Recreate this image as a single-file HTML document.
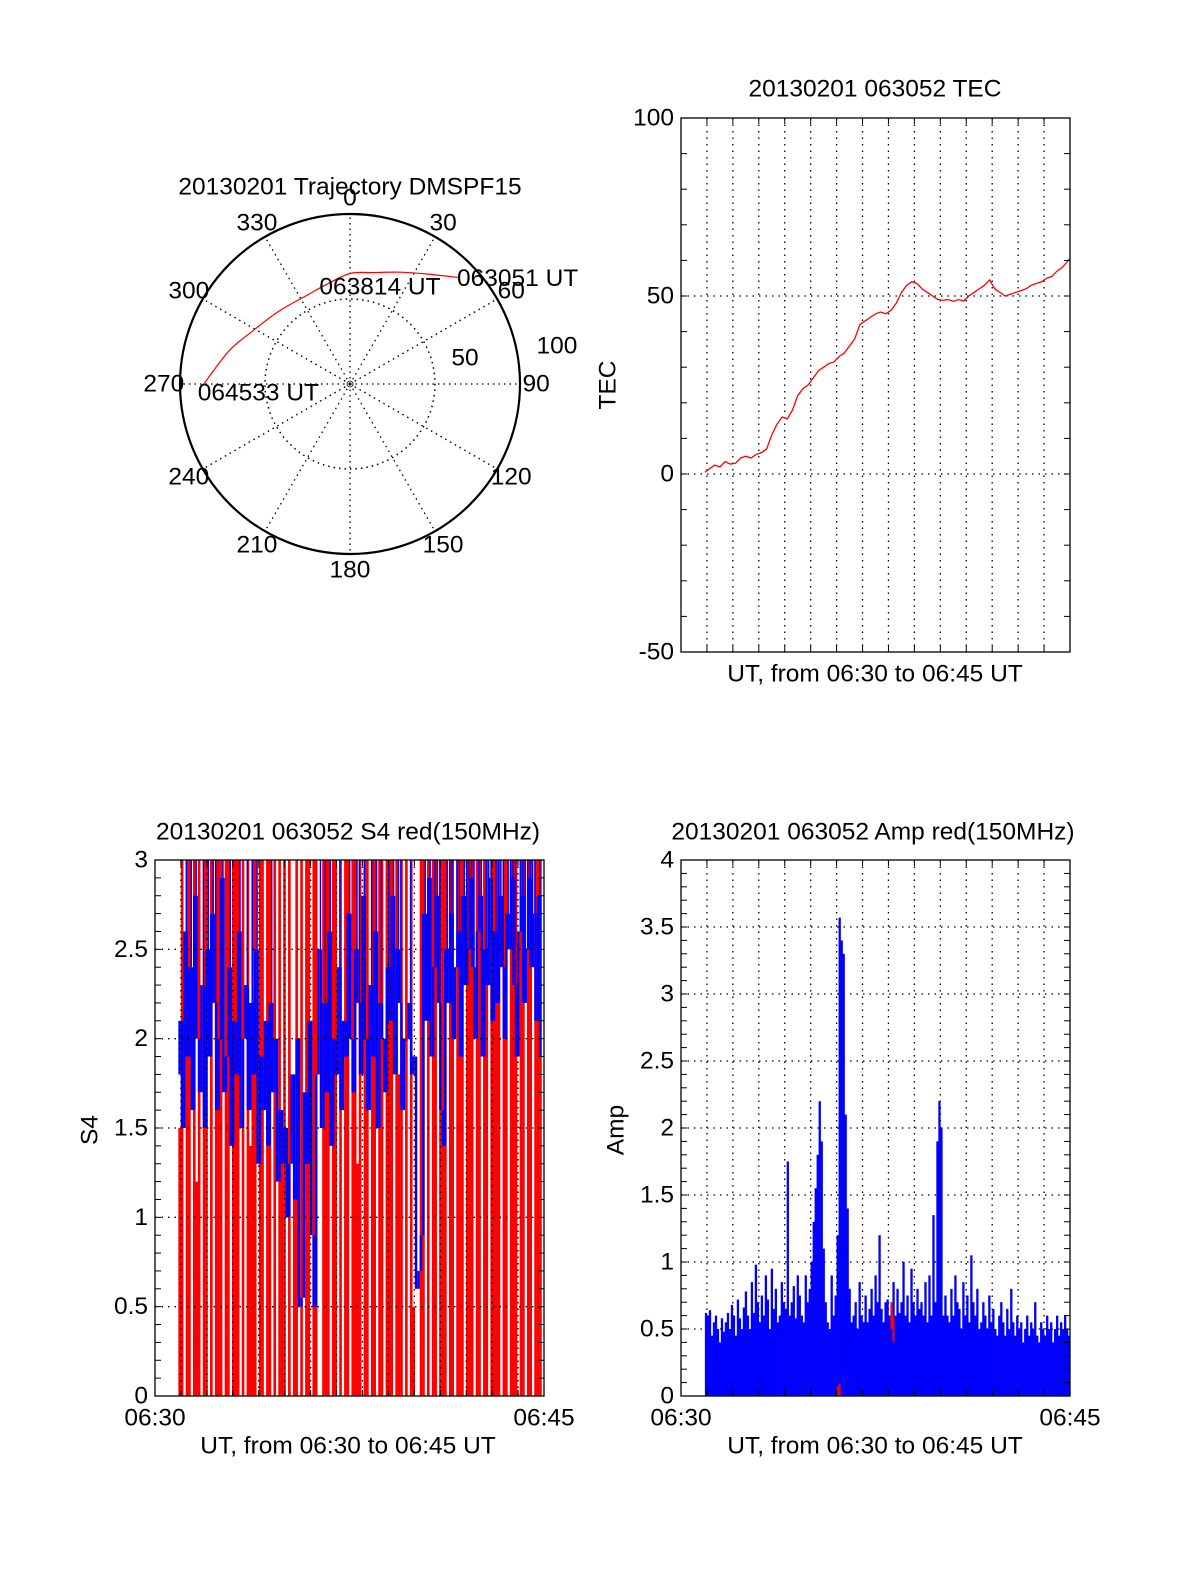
<!DOCTYPE html>
<html><head><meta charset="utf-8"><style>
html,body{margin:0;padding:0;background:#fff;overflow:hidden;width:1200px;height:1575px}
svg{display:block}
svg text{font-family:"Liberation Sans",sans-serif;font-size:24.5px;fill:#000}
</style></head><body>
<svg id="fig" width="1200" height="1575" viewBox="0 0 1200 1575" xmlns="http://www.w3.org/2000/svg"></svg>
<script>
// ---- Trajectory data (azimuth deg, radial value 0..100) ----
const trajAz = [46, 35, 24, 12, 0, -14, -26, -45, -63, -75, -90];
const trajR  = [90, 79, 72, 67, 65, 60, 58, 60, 66, 74, 86];
const polarAngleLabels = [0,30,60,90,120,150,180,210,240,270,300,330];
// ---- TEC data (minutes after 06:30, TEC) ----
const tecT = [0.92,1.1,1.3,1.5,1.7,1.9,2.1,2.3,2.5,2.7,2.9,3.1,3.3,3.5,3.7,3.9,4.1,4.3,4.5,4.7,4.9,5.1,5.3,5.5,5.7,5.9,6.1,6.3,6.5,6.7,6.9,7.1,7.3,7.5,7.7,7.9,8.1,8.3,8.5,8.7,8.9,9.1,9.3,9.5,9.7,9.9,10.1,10.3,10.5,10.7,10.9,11.1,11.3,11.5,11.7,11.9,12.1,12.3,12.5,12.7,12.9,13.1,13.3,13.5,13.7,13.9,14.1,14.3,14.5,14.7,15.0];
const tecV = [0.5,1.5,2.5,2,3.5,2.8,3,4.5,5,4.5,5.5,6,7,11,14,16,15.5,18,22,24,25,27,29,30,31,31.5,33,34,36,38,42,43,44,45,45.5,45,46,48,51,53,54,53.5,52,51,50,49,48.8,49,48.5,49,48.6,50,51,52,53,54.5,52,51,50,50.5,51,51.5,52,53,53.5,54,55,55.5,57,58,60.5];
const tecTicks = [100,50,0,-50];
// ---- S4 data ----
const s4Blue = [1.8,2.1,1.5,2.6,1.9,2.4,1.6,2.8,2.0,1.7,2.3,1.5,2.5,1.9,2.7,2.2,1.6,2.0,2.9,1.7,1.9,2.4,1.4,2.1,1.8,2.6,1.5,2.0,2.3,1.6,2.2,1.8,2.5,1.3,1.9,1.6,2.1,1.4,2.2,1.7,2.0,1.2,1.6,1.3,1.5,1.0,1.3,1.8,1.1,2.0,0.5,0.55,1.7,1.3,2.1,0.9,0.5,1.8,2.5,1.5,2.2,1.7,2.6,1.4,2.0,1.8,2.4,1.6,2.1,1.9,2.7,2.0,1.7,2.5,2.2,1.8,2.8,2.0,1.6,2.3,1.9,2.6,1.5,2.2,2.0,1.7,2.4,2.1,2.8,1.8,2.5,2.2,1.6,2.0,2.0,2.2,1.8,1.9,0.6,0.7,0.9,2.7,2.1,2.9,1.9,2.4,2.8,2.2,1.6,1.4,2.5,2.2,2.7,2.0,2.4,2.6,1.9,2.8,2.3,2.5,2.9,2.4,2.0,2.6,2.8,1.9,2.5,2.3,2.9,2.1,2.6,2.2,2.8,2.4,2.0,2.7,2.5,2.9,2.3,1.9,2.6,2.8,2.2,2.5,2.9,2.4,2.7,2.1,2.8,1.9];
const s4Red = [1.5,3,0,3,3,0,3,1.2,3,0,3,3,0,3,0,3,3,3,0,3,3,0,3,3,3,0,3,0,3,1.4,3,3,0,3,3,0,3,3,0,3,0,3,1.6,3,0,3,0,1.2,3,0,3,0,3,3,0,3,3,0,0,3,3,3,0,3,3,0,3,0,3,3,0,3,3,1.3,3,0,3,3,0,3,3,0,3,3,0,3,3,3,0,3,1.8,3,0,3,0,3,0.5,0,0,3,3,0,3,0,3,3,0,3,3,3,0,3,3,0,3,3,3,0,3,3,3,0,3,3,0,3,3,0,3,3,3,3,0,3,3,0,3,3,3,0,3,3,0,3,3,0,3,3,3,0];
const s4Ticks = ["0","0.5","1","1.5","2","2.5","3"];
// ---- Amp data ----
const ampBlue = [.62,.6,.64,.45,.55,.6,.5,.4,.58,.48,.55,.62,.5,.68,.6,.45,.72,.58,.5,.66,.78,.6,.5,.85,.62,.98,.7,.55,.75,.6,.9,.72,.5,.95,.65,.8,.55,.6,.85,.7,.65,1.75,.6,.7,.82,.58,.9,.75,.6,.55,.9,.7,.8,1.0,1.3,1.55,1.8,2.2,1.9,1.1,.7,.55,.5,.9,.6,.75,1.2,3.57,3.4,3.3,2.1,1.4,.8,.55,.6,.7,.5,.85,.6,.55,.75,.55,.65,.8,.6,.9,.7,1.2,.65,.55,.7,.72,.6,.55,.85,.6,.8,.62,.7,1.0,.6,.75,.55,.95,.7,.6,.8,.65,.7,.6,.85,.55,.9,.6,1.35,.7,1.9,2.2,2.0,.6,.75,.6,.55,.8,.6,.9,.7,.65,.5,.85,.6,.75,.55,1.05,.7,.6,.8,.5,.55,.7,.6,.5,.75,.55,.65,.5,.45,.6,.7,.55,.45,.65,.5,.8,.55,.45,.6,.5,.55,.4,.5,.6,.45,.55,.5,.7,.45,.4,.55,.5,.45,.6,.5,.55,.4,.5,.6,.45,.55,.5,.6,.5,.45];
const ampRedIdx = [66,67,93,94];
const ampRedVal = [0.07,0.09,0.7,0.6];
const ampTicks = ["0","0.5","1","1.5","2","2.5","3","3.5","4"];
const xEndLabels = ["06:30","06:45"];

const NS="http://www.w3.org/2000/svg";
const svg=document.getElementById('fig');
function mk(tag,attrs,parent){const e=document.createElementNS(NS,tag);for(const k in attrs)e.setAttribute(k,attrs[k]);(parent||svg).appendChild(e);return e;}
function txt(s,x,y,anchor,parent){const t=mk('text',{x:x,y:y,'text-anchor':anchor||'middle','dominant-baseline':'central'},parent);t.textContent=s;return t;}

// ================= Polar =================
const pg=mk('g',{});


const cx=350,cy=384,R=170;
function pr(v){return v/100*R;}
function pxy(az,r){const a=az*Math.PI/180;return [cx+pr(r)*Math.sin(a),cy-pr(r)*Math.cos(a)];}
for(let a=0;a<360;a+=30){const p=pxy(a,100);const l=mk('line',{x1:cx,y1:cy,x2:p[0],y2:p[1],stroke:'#000','stroke-width':1.3,'stroke-dasharray':'1.5,4'},pg);

}
const ic=mk('circle',{cx:cx,cy:cy,r:pr(50),fill:'none',stroke:'#000','stroke-width':1.5,'stroke-dasharray':'1.5,4'},pg);


const oc=mk('circle',{cx:cx,cy:cy,r:R,fill:'none',stroke:'#000','stroke-width':2.2},pg);


mk('circle',{cx:cx,cy:cy,r:3,fill:'none',stroke:'#000','stroke-width':0.8},pg);
polarAngleLabels.forEach(a=>{const p=pxy(a,109.5);const t=txt(String(a),p[0],p[1],'middle',pg);

});
let tl=txt('50',465,358,'middle',pg);


tl=txt('100',557,346,'middle',pg);


// smooth trajectory via Catmull-Rom
const tpts=trajAz.map((a,i)=>pxy(a,trajR[i]));
let d='M'+tpts[0][0]+','+tpts[0][1];
for(let i=0;i<tpts.length-1;i++){const p0=tpts[Math.max(0,i-1)],p1=tpts[i],p2=tpts[i+1],p3=tpts[Math.min(tpts.length-1,i+2)];
  d+=' C'+(p1[0]+(p2[0]-p0[0])/6)+','+(p1[1]+(p2[1]-p0[1])/6)+' '+(p2[0]-(p3[0]-p1[0])/6)+','+(p2[1]-(p3[1]-p1[1])/6)+' '+p2[0]+','+p2[1];}
const tline=mk('path',{d:d,fill:'none',stroke:'#f00','stroke-width':1.2},pg);


const ps=tpts[0],pe=tpts[tpts.length-1],pm=tpts[5];
tl=txt('063051 UT',ps[0]-3,ps[1]+1,'start',pg);


tl=txt('063814 UT',pm[0]-6,pm[1]+2,'start',pg);


tl=txt('064533 UT',pe[0]-6,pe[1]+9,'start',pg);


tl=txt('20130201 Trajectory DMSPF15',350,187,'middle',pg);



// ================= Generic axes =================
function axes(g,x0,y0,x1,y1,ymin,ymax,hgrid,vgrid){
  const sy=v=>y1-(v-ymin)/(ymax-ymin)*(y1-y0);
  const sx=m=>x0+m/15*(x1-x0);
  const gg=mk('g',{},g);
  
  
  if(vgrid)for(let m=1;m<15;m++){mk('line',{x1:sx(m),y1:y0,x2:sx(m),y2:y1,stroke:'#000','stroke-width':1.3,'stroke-dasharray':'1.5,5'},gg);}
  hgrid.forEach(v=>{mk('line',{x1:x0,y1:sy(v),x2:x1,y2:sy(v),stroke:'#000','stroke-width':1.3,'stroke-dasharray':'1.5,5'},gg);});
  return {sx,sy,gg};
}
function frame(g,x0,y0,x1,y1,ymin,ymax,minor){
  const sy=v=>y1-(v-ymin)/(ymax-ymin)*(y1-y0);
  const f=mk('rect',{x:x0,y:y0,width:x1-x0,height:y1-y0,fill:'none',stroke:'#000','stroke-width':1.3},g);
  
  
  for(let v=ymin;v<=ymax+1e-9;v+=minor){const y=sy(v);
    mk('line',{x1:x0,y1:y,x2:x0+6,y2:y,stroke:'#000','stroke-width':1},g);
    mk('line',{x1:x1,y1:y,x2:x1-6,y2:y,stroke:'#000','stroke-width':1},g);}
  for(let m=1;m<15;m++){const x=x0+m/15*(x1-x0);
    mk('line',{x1:x,y1:y1,x2:x,y2:y1-6,stroke:'#000','stroke-width':1},g);
    mk('line',{x1:x,y1:y0,x2:x,y2:y0+6,stroke:'#000','stroke-width':1},g);}
}

// ================= TEC =================
const tg=mk('g',{});


const TA=axes(tg,681,118,1070,652,-50,100,[0,50],true);
const tecPts=tecT.map((t,i)=>TA.sx(t)+','+TA.sy(tecV[i])).join(' ');
const tecLine=mk('polyline',{points:tecPts,fill:'none',stroke:'#f00','stroke-width':1.3},tg);


frame(tg,681,118,1070,652,-50,100,10);
tecTicks.forEach(v=>{const t=txt(String(v),674,TA.sy(v),'end',tg);

});
tl=txt('20130201 063052 TEC',875,89,'middle',tg);


tl=txt('UT, from 06:30 to 06:45 UT',875,674,'middle',tg);


tl=txt('TEC',608,385,'middle',tg);
tl.setAttribute('transform','rotate(-90 608 385)');



// ================= S4 =================
const sg=mk('g',{});


const SX0=155,SX1=544,SY0=860,SY1=1396;
const ssy=v=>SY1-v/3*(SY1-SY0);
const ssx=m=>SX0+m/15*(SX1-SX0);
const sT0=0.9,sT1=15.0,sN=s4Red.length,sdt=(sT1-sT0)/sN;
const bw=ssx(sdt)-ssx(0);
s4Red.forEach((v,i)=>{if(v<=0)return;const x=ssx(sT0+i*sdt);
  const r=mk('rect',{x:x,y:ssy(Math.min(v,3)),width:bw+0.2,height:SY1-ssy(Math.min(v,3)),fill:'#f00'},sg);
  
  });
for(let i=0;i<s4Blue.length-1;i++){const x=ssx(sT0+i*sdt);
  const a=Math.min(s4Blue[i],s4Blue[i+1]),b=Math.max(s4Blue[i],s4Blue[i+1]);
  const r=mk('rect',{x:x,y:ssy(b),width:bw,height:Math.max(2,ssy(a)-ssy(b)),fill:'#00f'},sg);
  
  }
for(let i=0;i<s4Blue.length;i+=1){if(s4Blue[i]<2.2)continue;const x=ssx(sT0+i*sdt);
  const r=mk('rect',{x:x,y:SY0,width:bw*0.6,height:ssy(s4Blue[i])-SY0,fill:'#00f'},sg);
  
  }
axes(sg,SX0,SY0,SX1,SY1,0,3,[0.5,1,1.5,2,2.5],true);
frame(sg,SX0,SY0,SX1,SY1,0,3,0.1);
s4Ticks.forEach(s=>{const t=txt(s,148,ssy(parseFloat(s)),'end',sg);

});
tl=txt(xEndLabels[0],SX0,1418,'middle',sg);


tl=txt(xEndLabels[1],SX1,1418,'middle',sg);


tl=txt('20130201 063052 S4 red(150MHz)',348,832,'middle',sg);


tl=txt('UT, from 06:30 to 06:45 UT',348,1446,'middle',sg);


tl=txt('S4',90,1130,'middle',sg);
tl.setAttribute('transform','rotate(-90 90 1130)');



// ================= Amp =================
const ag=mk('g',{});


const AX0=681,AX1=1070,AY0=860,AY1=1396;
const AA=axes(ag,AX0,AY0,AX1,AY1,0,4,[0.5,1,1.5,2,2.5,3,3.5],true);
const asx=AA.sx,asy=AA.sy;
const aT0=0.92,aT1=15.0,aN=ampBlue.length,adt=(aT1-aT0)/aN;
const abw=asx(adt)-asx(0);
ampBlue.forEach((v,i)=>{const x=asx(aT0+i*adt);
  const r=mk('rect',{x:x,y:asy(v),width:abw+0.3,height:AY1-asy(v),fill:'#00f'},ag);
  
  });
ampRedIdx.forEach((idx,k)=>{const x=asx(aT0+idx*adt);const v=ampRedVal[k];
  const h=v>0.3?(asy(v-0.2)-asy(v)):(AY1-asy(v));
  const r=mk('rect',{x:x,y:asy(v),width:abw,height:h,fill:'#f00'},ag);
  
  });
frame(ag,AX0,AY0,AX1,AY1,0,4,0.1);
ampTicks.forEach(s=>{const t=txt(s,674,asy(parseFloat(s)),'end',ag);

});
tl=txt(xEndLabels[0],AX0,1418,'middle',ag);


tl=txt(xEndLabels[1],AX1,1418,'middle',ag);


tl=txt('20130201 063052 Amp red(150MHz)',873,832,'middle',ag);


tl=txt('UT, from 06:30 to 06:45 UT',875,1446,'middle',ag);


tl=txt('Amp',616,1130,'middle',ag);
tl.setAttribute('transform','rotate(-90 616 1130)');


</script>
</body></html>
